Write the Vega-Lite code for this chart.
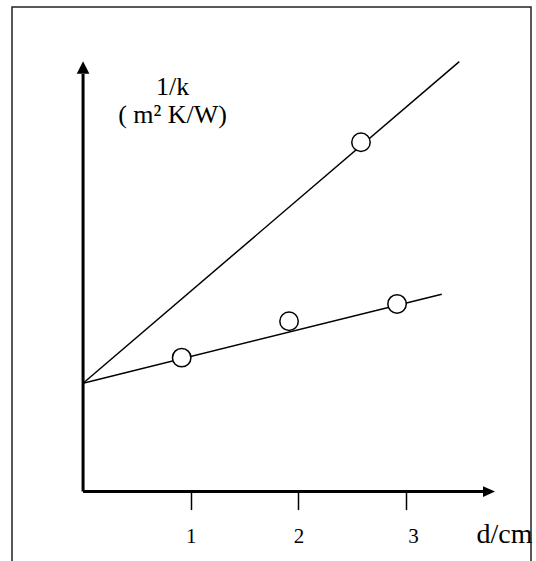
{
  "$schema": "https://vega.github.io/schema/vega-lite/v6.json",
  "width": 519,
  "height": 560,
  "autosize": {"type": "none"},
  "padding": {"left": 12, "top": 7, "right": 5, "bottom": 0},
  "background": "white",
  "config": {
    "view": {"stroke": "#222222", "strokeWidth": 1.5},
    "font": "Liberation Serif"
  },
  "datasets": {
    "axisLines": [
      {"d": 0, "y": 0, "d2": 0, "y2": 3.878},
      {"d": 0, "y": 0, "d2": 3.714, "y2": 0}
    ],
    "arrows": [
      {"d": 0, "y": 3.938, "dir": "up"},
      {"d": 3.77, "y": 0, "dir": "right"}
    ],
    "fits": [
      {"series": "upper", "d": 0, "y": 1.006},
      {"series": "upper", "d": 3.494, "y": 3.993},
      {"series": "lower", "d": 0, "y": 1.006},
      {"series": "lower", "d": 3.331, "y": 1.833}
    ],
    "points": [
      {"d": 0.916, "y": 1.244},
      {"d": 1.913, "y": 1.582},
      {"d": 2.916, "y": 1.743},
      {"d": 2.581, "y": 3.244}
    ]
  },
  "encoding": {
    "x": {
      "field": "d",
      "type": "quantitative",
      "scale": {"domain": [-0.66, 4.16], "nice": false, "zero": false},
      "axis": {
        "orient": "bottom",
        "offset": -75.4,
        "values": [1, 2, 3],
        "domain": false,
        "grid": false,
        "ticks": true,
        "tickSize": 18,
        "tickWidth": 1.5,
        "tickColor": "black",
        "labelFont": "Liberation Serif",
        "labelFontSize": 21,
        "labelColor": "black",
        "labelBaseline": "alphabetic",
        "labelPadding": 33,
        "labelOffset": {"condition": {"test": "datum.value == 3", "value": 7}, "value": 0},
        "title": "d/cm",
        "titleFont": "Liberation Serif",
        "titleFontSize": 28,
        "titleFontWeight": "normal",
        "titleColor": "black",
        "titleAlign": "left",
        "titleBaseline": "alphabetic",
        "titleX": 464,
        "titleY": 51
      }
    },
    "y": {
      "field": "y",
      "type": "quantitative",
      "scale": {"domain": [-0.7, 4.5], "nice": false, "zero": false},
      "axis": {
        "orient": "left",
        "offset": -71.07,
        "domain": false,
        "grid": false,
        "ticks": false,
        "labels": false,
        "title": ["1/k", "( m² K/W)"],
        "titleAngle": 0,
        "titleFont": "Liberation Serif",
        "titleFontSize": 26,
        "titleFontWeight": "normal",
        "titleColor": "black",
        "titleAlign": "center",
        "titleBaseline": "alphabetic",
        "titleLineHeight": 28,
        "titleX": 89,
        "titleY": 87
      }
    }
  },
  "layer": [
    {
      "data": {"name": "axisLines"},
      "mark": {"type": "rule", "color": "black", "strokeWidth": 3},
      "encoding": {
        "x2": {"field": "d2"},
        "y2": {"field": "y2"}
      }
    },
    {
      "data": {"name": "arrows"},
      "transform": [{"filter": "datum.dir == 'up'"}],
      "mark": {"type": "point", "shape": "M0,-1L1,1L-1,1Z", "filled": true, "color": "black", "size": 160, "opacity": 1}
    },
    {
      "data": {"name": "arrows"},
      "transform": [{"filter": "datum.dir == 'right'"}],
      "mark": {"type": "point", "shape": "M1,0L-1,-0.9L-1,0.9Z", "filled": true, "color": "black", "size": 144, "opacity": 1}
    },
    {
      "data": {"name": "fits"},
      "mark": {"type": "line", "color": "black", "strokeWidth": 1.5},
      "encoding": {
        "detail": {"field": "series"},
        "order": {"field": "d", "type": "quantitative"}
      }
    },
    {
      "data": {"name": "points"},
      "mark": {"type": "point", "shape": "circle", "filled": true, "fill": "white", "stroke": "black", "strokeWidth": 1.5, "size": 340, "opacity": 1}
    }
  ]
}
